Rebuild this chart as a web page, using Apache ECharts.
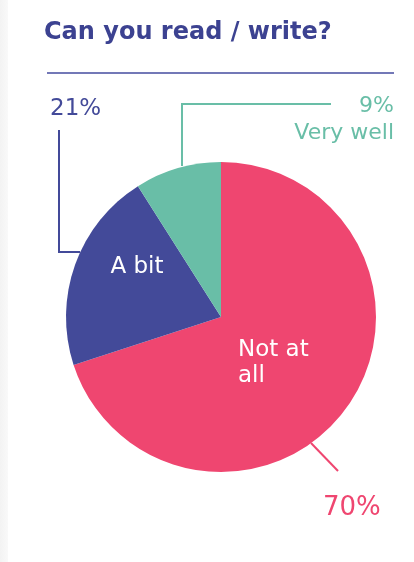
<!DOCTYPE html>
<html>
<head>
<meta charset="utf-8">
<script src="https://cdn.jsdelivr.net/npm/echarts@6/dist/echarts.min.js"></script>
<style>
  html, body { margin: 0; padding: 0; background: #fff; }
  #strip { position: absolute; left: 0; top: 0; width: 8px; height: 562px;
    background: linear-gradient(to right, #f3f3f3, #f9f9f9); }
  #chart { width: 414px; height: 562px; }
</style>
</head>
<body>
<div id="strip"></div>
<div id="chart"></div>
<script>
// data
var names = ['Not at all', 'A bit', 'Very well']
var values = [70, 21, 9]
var colors = ['#ef4670', '#434a99', '#69bea7']
var innerText = ['Not at\nall', 'A bit', '']
var outerText = ['70%', '21%', '9%\nVery well']

// label placement (layout only)
var innerPos = [
  { x: 238, y: 363, align: 'left', verticalAlign: 'middle' },
  { x: 137, y: 267, align: 'center', verticalAlign: 'middle' },
  { x: 0, y: 0, align: 'center', verticalAlign: 'middle' }
]
var outerPos = [
  { x: 323, y: 508, align: 'left', verticalAlign: 'middle', size: 26,
    line: [[311, 443], [338, 471]] },
  { x: 50, y: 109, align: 'left', verticalAlign: 'middle', size: 23,
    line: [[80, 252], [59, 252], [59, 130]] },
  { x: 394, y: 120, align: 'right', verticalAlign: 'middle', size: 22,
    line: [[182, 166], [182, 104], [331, 104]] }
]

var font = '"DejaVu Sans", sans-serif'
var myChart = echarts.init(document.getElementById('chart'))

var option = {
  animation: false,
  title: {
    text: 'Can you read / write?',
    left: 39,
    top: 16,
    textStyle: { color: '#3c4291', fontSize: 24, fontWeight: 'bold', fontFamily: font }
  },
  graphic: [
    {
      type: 'line',
      shape: { x1: 47, y1: 73, x2: 394, y2: 73 },
      style: { stroke: '#7378b7', lineWidth: 2 }
    }
  ],
  series: [
    {
      type: 'pie',
      center: [221, 317],
      radius: 155,
      startAngle: 90,
      silent: true,
      itemStyle: { borderWidth: 0 },
      data: names.map(function (n, i) {
        return { name: n, value: values[i], itemStyle: { color: colors[i] } }
      }),
      label: {
        show: true,
        position: 'inside',
        color: '#fff',
        fontSize: 23,
        fontFamily: font,
        lineHeight: 26,
        formatter: function (p) { return innerText[p.dataIndex] }
      },
      labelLine: { show: false },
      labelLayout: function (p) {
        var c = innerPos[p.dataIndex]
        return { x: c.x, y: c.y, align: c.align, verticalAlign: c.verticalAlign }
      }
    },
    {
      type: 'pie',
      center: [221, 317],
      radius: 155,
      startAngle: 90,
      silent: true,
      z: 3,
      data: names.map(function (n, i) {
        return {
          name: n, value: values[i],
          itemStyle: { color: 'rgba(0,0,0,0)' },
          label: { color: colors[i], fontSize: outerPos[i].size },
          labelLine: { lineStyle: { color: colors[i] } }
        }
      }),
      label: {
        show: true,
        position: 'outside',
        overflow: 'none',
        fontFamily: font,
        lineHeight: 27,
        formatter: function (p) { return outerText[p.dataIndex] }
      },
      labelLine: { show: true, lineStyle: { width: 2 } },
      labelLayout: function (p) {
        var c = outerPos[p.dataIndex]
        return { x: c.x, y: c.y, align: c.align, verticalAlign: c.verticalAlign, labelLinePoints: c.line }
      }
    }
  ]
}

option && myChart.setOption(option)
</script>
</body>
</html>
